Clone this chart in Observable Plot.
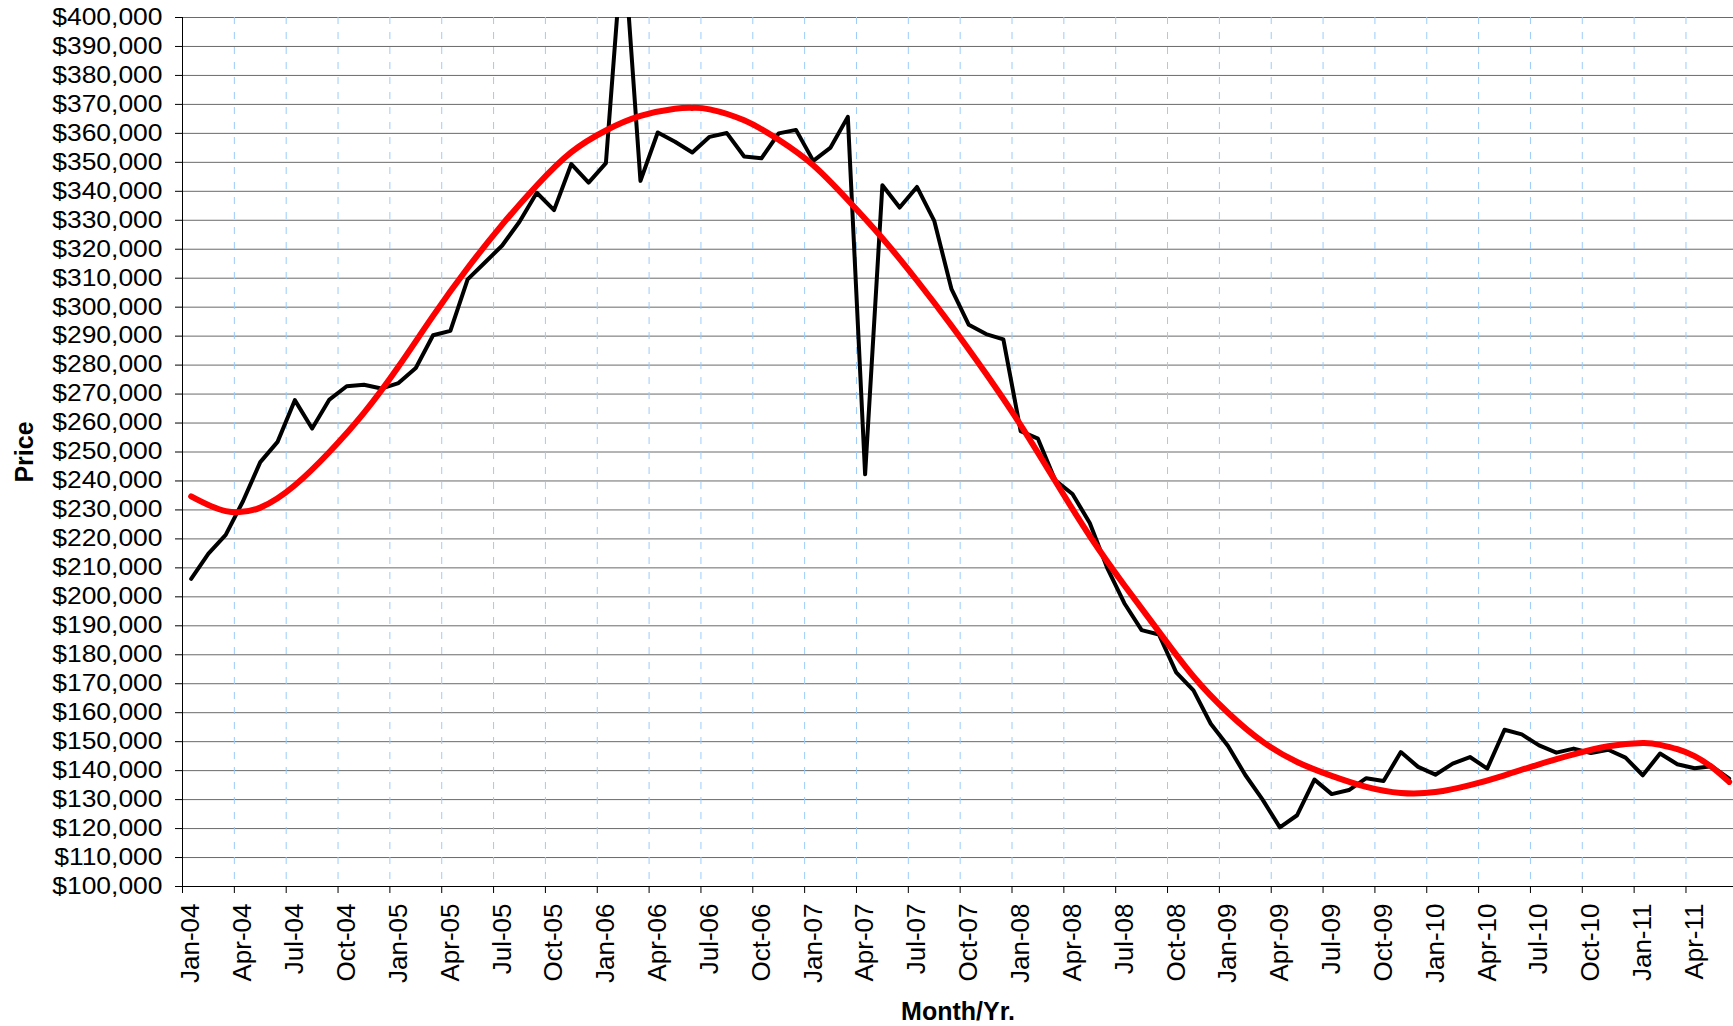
<!DOCTYPE html>
<html>
<head>
<meta charset="utf-8">
<script src="https://cdn.jsdelivr.net/npm/d3@7"></script>
<script src="https://cdn.jsdelivr.net/npm/@observablehq/plot@0.6"></script>
<style>
  html, body { margin: 0; padding: 0; background: #ffffff; }
  #chart svg { display: block; }
</style>
</head>
<body>
<div id="chart"></div>
<script>
// Monthly median price, Jan-04 .. Jun-11 (one value per month, index 0 = Jan-04)
const prices = [
  206200, 214900, 221400, 233000, 246500, 253500, 267900, 258100, 268100, 272700, 273200, 271900,
  273800, 279000, 290300, 291800, 309600, 315400, 321300, 329500, 339500, 333500, 349400, 343000,
  349700, 428000, 343600, 360300, 357100, 353400, 358800, 360100, 352000, 351400, 360000, 361200,
  350500, 355100, 365700, 242300, 342100, 334400, 341500, 329800, 306200, 293900, 290700, 288900,
  257200, 254600, 240200, 235500, 225500, 210100, 197800, 188500, 187000, 173900, 167700, 156200,
  148500, 138500, 130000, 120400, 124600, 136900, 131900, 133300, 137400, 136400, 146400, 141300,
  138600, 142400, 144700, 140700, 154100, 152500, 148700, 146200, 147600, 146100, 147200, 144500,
  138400, 145900, 142200, 140800, 141500, 137200
];

// Trend line (red) at these month indexes
const trendMonths = [0, 2, 4, 6, 8, 10, 12, 14, 16, 18, 20, 22, 24, 26, 28, 29, 30, 32, 34, 36, 38, 40,
  42, 44, 46, 48, 50, 52, 54, 56, 58, 60, 62, 64, 66, 68, 70, 72, 74, 76, 78, 80, 82, 84, 85, 86, 87, 88, 89];
const trendValues = [234700, 229600, 230800, 238500, 250000, 263500, 279500, 297000, 313500, 328500,
  342000, 353500, 361000, 366000, 368500, 368800, 368300, 364500, 357800, 349000, 337000, 323800,
  309200, 293600, 277000, 259300, 240000, 221000, 204000, 188000, 172500, 160000, 150000, 143000,
  138200, 134400, 132300, 132600, 135000, 138400, 142200, 145600, 148400, 149500, 148900, 147400,
  145000, 141200, 136100];

// Category tick labels (quarterly) and their month indexes
const tickLabels = ["Jan-04", "Apr-04", "Jul-04", "Oct-04", "Jan-05", "Apr-05", "Jul-05", "Oct-05",
  "Jan-06", "Apr-06", "Jul-06", "Oct-06", "Jan-07", "Apr-07", "Jul-07", "Oct-07", "Jan-08", "Apr-08",
  "Jul-08", "Oct-08", "Jan-09", "Apr-09", "Jul-09", "Oct-09", "Jan-10", "Apr-10", "Jul-10", "Oct-10",
  "Jan-11", "Apr-11"];
const tickMonths = [0, 3, 6, 9, 12, 15, 18, 21, 24, 27, 30, 33, 36, 39, 42, 45, 48, 51, 54, 57, 60, 63,
  66, 69, 72, 75, 78, 81, 84, 87];

const yTicks = [100000, 110000, 120000, 130000, 140000, 150000, 160000, 170000, 180000, 190000, 200000,
  210000, 220000, 230000, 240000, 250000, 260000, 270000, 280000, 290000, 300000, 310000, 320000,
  330000, 340000, 350000, 360000, 370000, 380000, 390000, 400000];

const series = prices.map((p, i) => ({m: i + 0.5, price: p}));
const trend = trendMonths.map((m, k) => ({m: m + 0.5, value: trendValues[k]}));
const fmt = d3.format(",");

const chart = Plot.plot({
  width: 1733,
  height: 1026,
  marginLeft: 182,
  marginRight: 0,
  marginTop: 17,
  marginBottom: 140,
  style: {fontFamily: "'Liberation Sans', Arial, sans-serif", background: "#ffffff", color: "#000"},
  x: {type: "linear", domain: [0, 89.75]},
  y: {domain: [100000, 400000]},
  marks: [
    Plot.gridY(yTicks, {stroke: "#6a6a6a", strokeOpacity: 1, strokeWidth: 1}),
    Plot.gridX(tickMonths.slice(1), {stroke: "#9cccfa", strokeOpacity: 1, strokeWidth: 1, strokeDasharray: "7,8"}),
    Plot.ruleY([100000], {stroke: "#000"}),
    Plot.ruleX([0], {stroke: "#000"}),
    Plot.axisY(yTicks, {tickSize: 7, tickPadding: 13, fontSize: 23, label: null,
      tickFormat: d => "$" + fmt(d)}),
    Plot.axisX(tickMonths, {tickSize: 7, text: null, label: null}),
    Plot.axisX(tickMonths.map(m => m + 0.5), {tickSize: 0, tickPadding: 17, tickRotate: -90, fontSize: 26,
      label: null, tickFormat: d => tickLabels[Math.round((d - 0.5) / 3)]}),
    Plot.text(["Price"], {frameAnchor: "left", dx: -158, rotate: -90, textAnchor: "middle", lineAnchor: "middle",
      fontSize: 25, fontWeight: "bold", text: d => d}),
    Plot.text(["Month/Yr."], {frameAnchor: "bottom", dy: 125, textAnchor: "middle", lineAnchor: "middle",
      fontSize: 25, fontWeight: "bold", text: d => d}),
    Plot.line(series, {x: "m", y: "price", stroke: "#000", strokeWidth: 4, clip: true}),
    Plot.line(trend, {x: "m", y: "value", stroke: "#ff0000", strokeWidth: 6, curve: "natural", clip: true})
  ]
});

document.getElementById("chart").appendChild(chart);

// widen y tick labels horizontally to match the reference's stretched glyphs
d3.select(chart).selectAll('g[aria-label="y-axis tick label"] text').each(function() {
  const t = this.getAttribute("transform") || "";
  this.setAttribute("transform", t + " scale(1.15,1)");
});
</script>
</body>
</html>
